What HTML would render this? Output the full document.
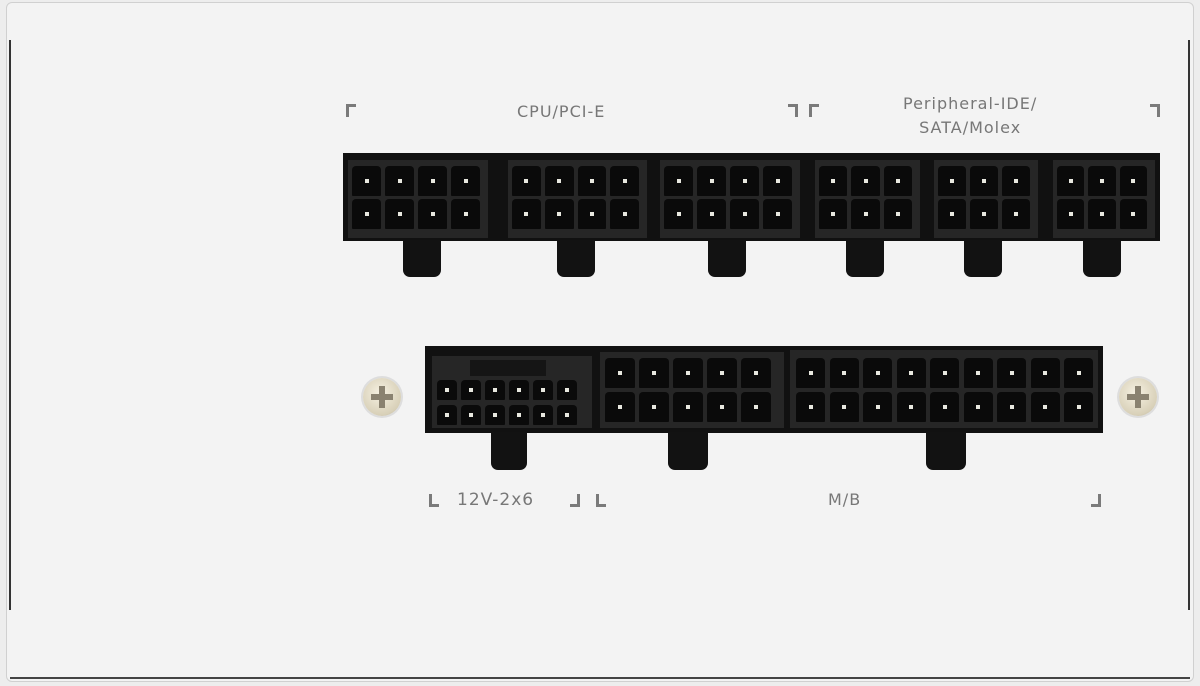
<!DOCTYPE html>
<html><head><meta charset="utf-8"><style>
body{margin:0;width:1200px;height:686px;background:#ededed;overflow:hidden;position:relative;font-family:"DejaVu Sans","Liberation Sans",sans-serif}
.a{position:absolute}
.panel{left:6px;top:2px;width:1188px;height:680px;background:#f3f3f3;border:1px solid #d0d0d0;border-radius:6px;box-sizing:border-box}
.blk{background:#111;position:absolute}
.inner{background:#262626;position:absolute}
.cell{background:#0a0a0a;position:absolute;border-radius:4px 4px 1px 1px}
.pin{background:#e8e8e0;position:absolute;width:4px;height:4px}
.latch{background:#121212;position:absolute;border-radius:0 0 7px 7px}
.lbl{position:absolute;color:#777;font-size:16px;letter-spacing:1px}
.br{position:absolute;width:7px;height:10px;border-color:#7a7a7a;border-style:solid;border-width:0}
.screw{position:absolute;width:38px;height:38px;border-radius:50%;background:radial-gradient(circle at 45% 40%,#f6f1e2,#d8d0b8 70%,#a8a08a);box-shadow:0 0 0 2px #ddd}
</style></head><body>
<div class="a panel"></div>
<div class="a" style="left:9px;top:40px;width:2px;height:570px;background:#333"></div>
<div class="a" style="left:1188px;top:40px;width:2px;height:570px;background:#333"></div>
<div class="a" style="left:10px;top:677px;width:1180px;height:2px;background:#444"></div>
<div id="c"></div>
<div class="lbl" style="left:517px;top:102px">CPU/PCI-E</div>
<div class="lbl" style="left:903px;top:92px;line-height:24px;text-align:center">Peripheral-IDE/<br>SATA/Molex</div>
<div class="lbl" style="left:457px;top:490px;font-size:17px">12V-2x6</div>
<div class="lbl" style="left:828px;top:490px">M/B</div>
<div class="screw" style="left:363px;top:378px"></div>
<div class="screw" style="left:1119px;top:378px"></div>
<div class="a" style="left:371px;top:394px;width:22px;height:6px;background:#8a8270"></div>
<div class="a" style="left:379px;top:386px;width:6px;height:22px;background:#8a8270"></div>
<div class="a" style="left:1127px;top:394px;width:22px;height:6px;background:#8a8270"></div>
<div class="a" style="left:1135px;top:386px;width:6px;height:22px;background:#8a8270"></div>
<script>
var h='';
function blk(x,y,w,hh){h+='<div class="blk" style="left:'+x+'px;top:'+y+'px;width:'+w+'px;height:'+hh+'px"></div>';}
function inn(x,y,w,hh){h+='<div class="inner" style="left:'+x+'px;top:'+y+'px;width:'+w+'px;height:'+hh+'px"></div>';}
function grid(x,y,cols,rows,pw,ph,cw,ch){for(var r=0;r<rows;r++)for(var c=0;c<cols;c++){var cx=x+c*pw,cy=y+r*ph;h+='<div class="cell" style="left:'+cx+'px;top:'+cy+'px;width:'+cw+'px;height:'+ch+'px"></div><div class="pin" style="left:'+(cx+cw/2-2)+'px;top:'+(cy+ch/2-2)+'px"></div>';}}
function latch(cx,y,w,hh){h+='<div class="latch" style="left:'+(cx-w/2)+'px;top:'+y+'px;width:'+w+'px;height:'+hh+'px"></div>';}
blk(343,153,817,88);
[[343,150,4],[503,149,4],[655,150,4],[810,115,3],[929,114,3],[1048,112,3]].forEach(function(b){
 inn(b[0]+5,160,b[1]-10,78);
 var pw=(b[1]-18)/b[2];
 grid(b[0]+9,166,b[2],2,pw,33,pw-4,30);
});
[422,576,727,865,983,1102].forEach(function(x){latch(x,240,38,37);});
blk(425,346,678,87);
inn(432,356,160,72);
h+='<div class="a" style="left:470px;top:360px;width:76px;height:16px;background:#151515"></div>';
grid(437,380,6,2,24,25,20,20);
inn(600,352,184,76);grid(605,358,5,2,34,34,30,30);
inn(790,350,308,78);grid(796,358,9,2,33.5,34,29,30);
latch(509,432,36,38);latch(688,432,40,38);latch(946,432,40,38);
document.getElementById('c').innerHTML=h;
</script>
<div class="br" style="left:346px;top:104px;border-top-width:3px;border-left-width:3px"></div>
<div class="br" style="left:788px;top:104px;border-top-width:3px;border-right-width:3px"></div>
<div class="br" style="left:809px;top:104px;border-top-width:3px;border-left-width:3px"></div>
<div class="br" style="left:1150px;top:104px;border-top-width:3px;border-right-width:3px"></div>
<div class="br" style="left:429px;top:494px;border-bottom-width:3px;border-left-width:3px"></div>
<div class="br" style="left:570px;top:494px;border-bottom-width:3px;border-right-width:3px"></div>
<div class="br" style="left:596px;top:494px;border-bottom-width:3px;border-left-width:3px"></div>
<div class="br" style="left:1091px;top:494px;border-bottom-width:3px;border-right-width:3px"></div>
</body></html>
